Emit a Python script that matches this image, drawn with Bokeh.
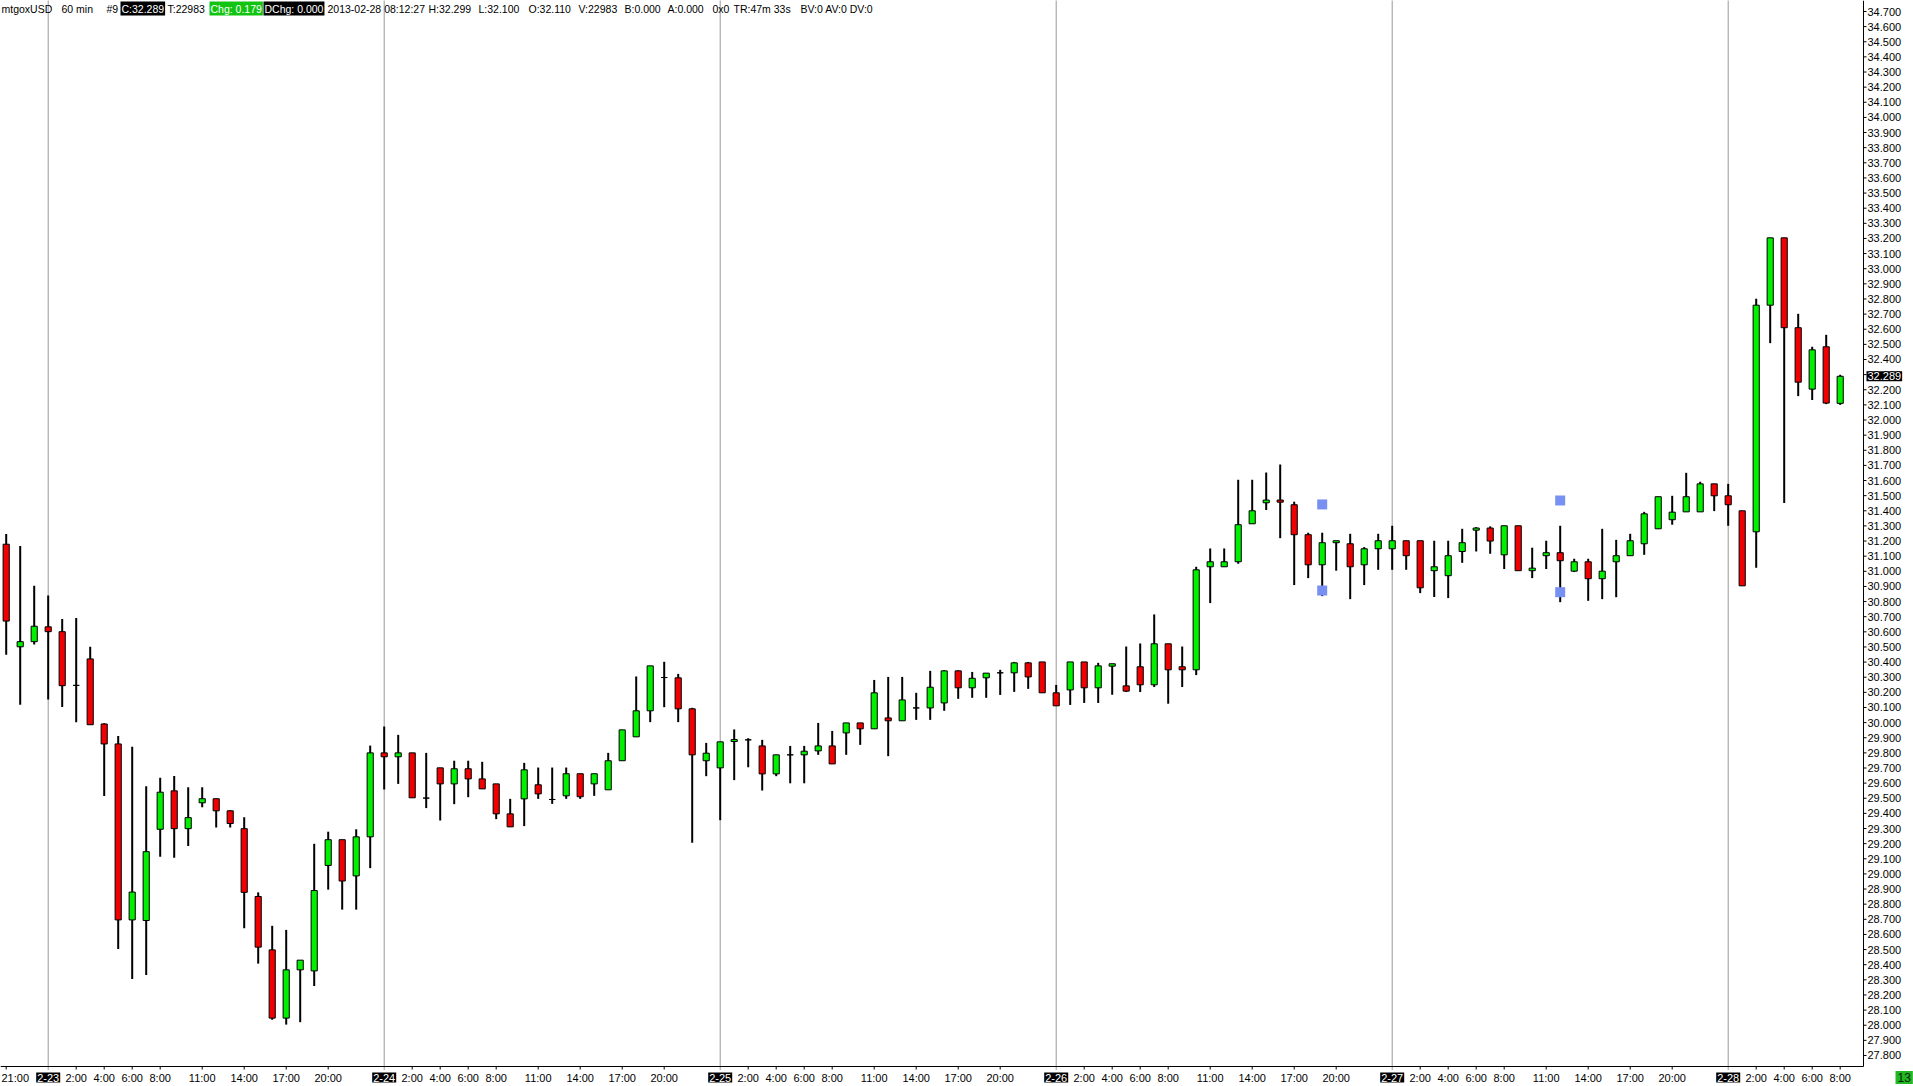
from bokeh.plotting import figure
from bokeh.models import Range1d, Label, ColumnDataSource
from bokeh.core.properties import value
from bokeh.embed import file_html
from bokeh.resources import INLINE

# ---- data: hourly candles, index 0 = 2013-02-22 21:00 ----
opens = [31.179, 30.501, 30.535, 30.633, 30.601, 30.246, 30.421, 29.991, 29.859, 28.696,
         28.692, 29.295, 29.549, 29.299, 29.470, 29.497, 29.417, 29.299, 28.851, 28.498,
         28.047, 28.366, 28.359, 29.056, 29.226, 28.987, 29.245, 29.800, 29.774, 29.800,
         29.501, 29.701, 29.595, 29.695, 29.628, 29.595, 29.397, 29.496, 29.589, 29.492,
         29.516, 29.662, 29.595, 29.556, 29.748, 29.906, 30.078, 30.298, 30.296, 30.091,
         29.748, 29.701, 29.875, 29.886, 29.846, 29.661, 29.787, 29.787, 29.813, 29.846,
         29.932, 29.998, 29.959, 30.031, 30.012, 30.097, 30.097, 30.130, 30.342, 30.230,
         30.296, 30.329, 30.329, 30.395, 30.401, 30.197, 30.216, 30.401, 30.230, 30.373,
         30.243, 30.369, 30.250, 30.521, 30.369, 30.349, 31.030, 31.030, 31.063, 31.314,
         31.453, 31.471, 31.440, 31.242, 31.043, 31.189, 31.182, 31.043, 31.149, 31.149,
         31.202, 31.202, 31.004, 30.971, 31.131, 31.272, 31.286, 31.109, 31.301, 31.004,
         31.103, 31.123, 31.001, 31.063, 30.951, 31.063, 31.103, 31.182, 31.281, 31.341,
         31.393, 31.393, 31.578, 31.499, 31.400, 31.261, 32.759, 33.204, 32.610, 32.204,
         32.484, 32.110]
highs = [31.247, 31.168, 30.904, 30.840, 30.685, 30.692, 30.501, 29.996, 29.911, 29.841,
         29.579, 29.636, 29.647, 29.572, 29.572, 29.497, 29.420, 29.374, 28.878, 28.657,
         28.630, 28.430, 29.199, 29.279, 29.226, 29.295, 29.848, 29.974, 29.919, 29.800,
         29.800, 29.701, 29.748, 29.748, 29.741, 29.595, 29.496, 29.734, 29.703, 29.703,
         29.703, 29.662, 29.662, 29.800, 29.952, 30.305, 30.375, 30.402, 30.322, 30.098,
         29.866, 29.873, 29.955, 29.897, 29.886, 29.787, 29.846, 29.846, 29.998, 29.945,
         29.998, 29.998, 30.282, 30.302, 30.302, 30.197, 30.342, 30.346, 30.346, 30.335,
         30.327, 30.349, 30.401, 30.401, 30.401, 30.249, 30.401, 30.401, 30.395, 30.389,
         30.503, 30.523, 30.715, 30.521, 30.503, 31.030, 31.151, 31.151, 31.605, 31.605,
         31.653, 31.706, 31.460, 31.255, 31.255, 31.202, 31.248, 31.160, 31.248, 31.301,
         31.202, 31.202, 31.202, 31.202, 31.281, 31.292, 31.297, 31.301, 31.301, 31.156,
         31.202, 31.301, 31.083, 31.083, 31.281, 31.208, 31.248, 31.393, 31.493, 31.499,
         31.651, 31.592, 31.578, 31.578, 31.400, 32.801, 33.204, 33.204, 32.702, 32.484,
         32.563, 32.299]
lows = [30.448, 30.118, 30.517, 30.153, 30.103, 30.002, 29.986, 29.515, 28.503, 28.305,
        28.332, 29.113, 29.106, 29.185, 29.440, 29.306, 29.306, 28.641, 28.407, 28.036,
        28.004, 28.020, 28.259, 28.896, 28.764, 28.764, 29.038, 29.558, 29.595, 29.503,
        29.435, 29.353, 29.461, 29.507, 29.562, 29.362, 29.311, 29.316, 29.496, 29.463,
        29.496, 29.496, 29.516, 29.556, 29.748, 29.906, 30.003, 30.102, 30.003, 29.206,
        29.646, 29.355, 29.620, 29.705, 29.551, 29.646, 29.599, 29.599, 29.787, 29.727,
        29.787, 29.853, 29.959, 29.778, 30.012, 30.018, 30.018, 30.078, 30.157, 30.164,
        30.164, 30.183, 30.203, 30.223, 30.197, 30.111, 30.117, 30.130, 30.130, 30.184,
        30.202, 30.202, 30.235, 30.125, 30.235, 30.314, 30.790, 31.030, 31.050, 31.314,
        31.405, 31.219, 30.909, 30.955, 30.836, 31.004, 30.816, 30.909, 31.010, 31.010,
        31.010, 30.856, 30.830, 30.823, 31.056, 31.131, 31.116, 31.015, 31.004, 30.955,
        31.015, 30.796, 30.995, 30.805, 30.816, 30.829, 31.103, 31.109, 31.281, 31.308,
        31.393, 31.393, 31.398, 31.301, 30.904, 31.023, 32.508, 31.451, 32.158, 32.132,
        32.105, 32.100]
closes = [30.671, 30.535, 30.637, 30.601, 30.244, 30.246, 29.986, 29.859, 28.696, 28.880,
          29.147, 29.540, 29.299, 29.372, 29.497, 29.417, 29.333, 28.878, 28.516, 28.047,
          28.366, 28.430, 28.890, 29.226, 28.953, 29.245, 29.800, 29.774, 29.800, 29.503,
          29.501, 29.595, 29.695, 29.628, 29.562, 29.397, 29.311, 29.688, 29.529, 29.492,
          29.662, 29.510, 29.662, 29.748, 29.952, 30.078, 30.375, 30.298, 30.091, 29.787,
          29.798, 29.873, 29.888, 29.886, 29.661, 29.787, 29.787, 29.811, 29.846, 29.727,
          29.998, 29.959, 30.197, 30.012, 30.150, 30.097, 30.234, 30.342, 30.230, 30.293,
          30.327, 30.329, 30.395, 30.302, 30.197, 30.111, 30.401, 30.230, 30.375, 30.389,
          30.208, 30.250, 30.521, 30.349, 30.349, 31.010, 31.063, 31.063, 31.308, 31.400,
          31.471, 31.457, 31.242, 31.043, 31.189, 31.202, 31.030, 31.149, 31.202, 31.202,
          31.103, 30.891, 31.030, 31.103, 31.189, 31.286, 31.200, 31.301, 31.004, 31.021,
          31.123, 31.070, 31.063, 30.951, 31.001, 31.103, 31.202, 31.380, 31.493, 31.391,
          31.493, 31.578, 31.499, 31.440, 30.904, 32.759, 33.204, 32.610, 32.250, 32.464,
          32.112, 32.289]

# indicator markers (blue squares)
marker_idx = [94, 94, 111, 111]
marker_price = [31.442, 30.873, 31.468, 30.862]

# time axis
day_idx = [3, 27, 51, 75, 99, 123]
day_text = ["2-23", "2-24", "2-25", "2-26", "2-27", "2-28"]
hour_idx = [0,
            5, 7, 9, 11, 14, 17, 20, 23,
            29, 31, 33, 35, 38, 41, 44, 47,
            53, 55, 57, 59, 62, 65, 68, 71,
            77, 79, 81, 83, 86, 89, 92, 95,
            101, 103, 105, 107, 110, 113, 116, 119,
            125, 127, 129, 131]
hour_text = ["21:00",
             "2:00", "4:00", "6:00", "8:00", "11:00", "14:00", "17:00", "20:00",
             "2:00", "4:00", "6:00", "8:00", "11:00", "14:00", "17:00", "20:00",
             "2:00", "4:00", "6:00", "8:00", "11:00", "14:00", "17:00", "20:00",
             "2:00", "4:00", "6:00", "8:00", "11:00", "14:00", "17:00", "20:00",
             "2:00", "4:00", "6:00", "8:00", "11:00", "14:00", "17:00", "20:00",
             "2:00", "4:00", "6:00", "8:00"]

# price axis
price_ticks = [round(27.8 + 0.1 * k, 1) for k in range(70)]
price_text = [f"{v:.3f}" for v in price_ticks]
last_price = 32.289
bar_count = "13"

# header line
header_text = ["mtgoxUSD", "60 min", "#9", "C:32.289", "T:22983", "Chg: 0.179",
               "DChg: 0.000", "2013-02-28 08:12:27", "H:32.299", "L:32.100", "O:32.110",
               "V:22983", "B:0.000", "A:0.000", "0x0", "TR:47m 33s", "BV:0 AV:0 DV:0"]
header_box = [None, None, None, "black", None, "green", "black", None, None, None, None,
              None, None, None, None, None, None]

# ---- layout / style ----
W, H = 1913, 1086
X_OFF, X_STEP = 5.7, 14.0           # px of first candle, px per hour
Y_OFF, Y_SCALE, Y_TOP = 11.0, 151.3, 34.7   # px of top tick, px per 1.0 price
AXIS_X, AXIS_Y = 1863, 1066         # px of price axis / time axis lines
header_x = [1, 61, 106, 120, 167, 209, 263, 327, 428, 478, 528, 578, 624, 667, 712, 733, 800]
FONT = "Liberation Sans"
UP, DOWN = "#00F000", "#F00000"


def xpx(px):
    return (px - X_OFF) / X_STEP


def ypx(py):
    return Y_TOP - (py - Y_OFF) / Y_SCALE


idx = list(range(len(opens)))
src = ColumnDataSource(dict(
    x=idx, h=highs, l=lows,
    top=[max(a, b) for a, b in zip(opens, closes)],
    bot=[min(a, b) for a, b in zip(opens, closes)],
    col=[UP if c > o else DOWN for o, c in zip(opens, closes)],
))

p = figure(width=W, height=H, output_backend="svg", toolbar_location=None,
           x_axis_location=None, y_axis_location=None,
           x_range=Range1d(xpx(0), xpx(W)), y_range=Range1d(ypx(H), ypx(0)),
           min_border=0, outline_line_color=None,
           background_fill_color="white", border_fill_color="white")
p.xgrid.grid_line_color = None
p.ygrid.grid_line_color = None

# day separators (dotted)
p.segment(x0=day_idx, x1=day_idx, y0=[ypx(0)] * len(day_idx), y1=[ypx(1070)] * len(day_idx),
          line_color="#333333", line_width=1, line_dash="1 1")

# wicks and bodies
p.segment(x0="x", x1="x", y0="l", y1="h", source=src, line_color="black", line_width=2)
p.vbar(x="x", width=0.44, top="top", bottom="bot", source=src, fill_color="col",
       line_color="black", line_width=1)

# markers
p.scatter(marker_idx, marker_price, marker="square", size=10, fill_color="#7890F2",
          line_color=None)

# ---- price axis (right) ----
p.segment(x0=[xpx(AXIS_X)], x1=[xpx(AXIS_X)], y0=[ypx(AXIS_Y)], y1=[ypx(0)],
          line_color="black", line_width=1)
p.segment(x0=[xpx(AXIS_X)] * len(price_ticks), x1=[xpx(AXIS_X + 3)] * len(price_ticks),
          y0=price_ticks, y1=price_ticks, line_color="black", line_width=1)
p.text(x=[xpx(AXIS_X + 4)] * len(price_ticks), y=price_ticks, text=price_text,
       text_align="left", text_baseline="middle", text_font=value(FONT),
       text_font_size="11px", text_color="black")

# ---- time axis (bottom) ----
p.segment(x0=[xpx(0)], x1=[xpx(AXIS_X)], y0=[ypx(AXIS_Y)], y1=[ypx(AXIS_Y)],
          line_color="black", line_width=1)
p.segment(x0=hour_idx, x1=hour_idx, y0=[ypx(AXIS_Y)] * len(hour_idx),
          y1=[ypx(AXIS_Y + 3)] * len(hour_idx), line_color="black", line_width=1)
# first label sits at the left edge: keep it fully inside the picture
p.text(x=[xpx(1)], y=[ypx(1077)], text=hour_text[:1],
       text_align="left", text_baseline="middle", text_font=value(FONT),
       text_font_size="11px", text_color="black")
p.text(x=hour_idx[1:], y=[ypx(1077)] * (len(hour_idx) - 1), text=hour_text[1:],
       text_align="center", text_baseline="middle", text_font=value(FONT),
       text_font_size="11px", text_color="black")

for d, t in zip(day_idx, day_text):
    p.add_layout(Label(x=d, y=H - 1077, y_units="screen", text=t, text_align="center",
                       text_baseline="middle", text_font=FONT, text_font_size="11px",
                       text_color="white", background_fill_color="black", padding=1))

# last price tag
p.add_layout(Label(x=AXIS_X + 3, x_units="screen", y=last_price, text=f"{last_price:.3f}",
                   text_align="left", text_baseline="middle", text_font=FONT,
                   text_font_size="11px", text_color="white",
                   background_fill_color="black", padding=1))

# bar counter box
p.add_layout(Label(x=1895, x_units="screen", y=H - 1077, y_units="screen", text=bar_count,
                   text_align="left", text_baseline="middle", text_font=FONT,
                   text_font_size="12px", text_color="#062006",
                   background_fill_color="#22B822", padding=2))

# header
for t, x, b in zip(header_text, header_x, header_box):
    if b == "black":
        kw = dict(text_color="white", background_fill_color="black", padding=1)
    elif b == "green":
        kw = dict(text_color="white", background_fill_color="#12C412", padding=1)
    else:
        kw = dict(text_color="black")
    p.add_layout(Label(x=x, x_units="screen", y=H - 8, y_units="screen", text=t,
                       text_align="left", text_baseline="middle", text_font=FONT,
                       text_font_size="10.5px", **kw))

open("out.html", "w").write(file_html(p, INLINE))
